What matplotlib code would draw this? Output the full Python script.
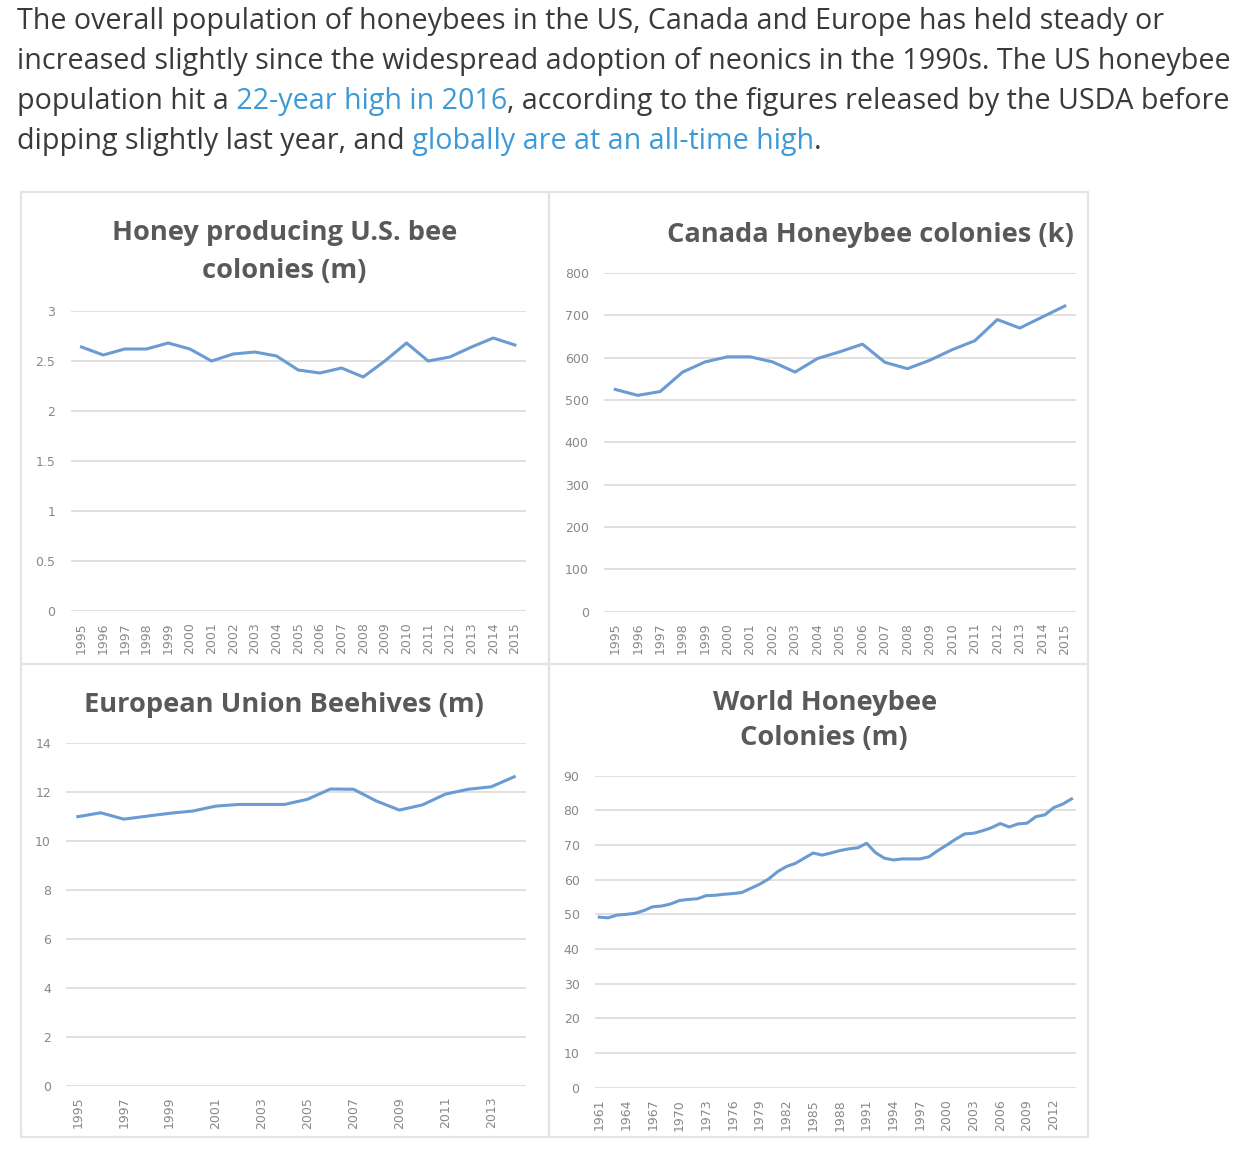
import matplotlib
matplotlib.use('Agg')
import matplotlib.pyplot as plt
from matplotlib.patches import Rectangle

# ---- data ----
us_years = list(range(1995, 2016))
us_colonies = [2.64, 2.56, 2.62, 2.62, 2.68, 2.62, 2.50, 2.57, 2.59, 2.55, 2.41,
               2.38, 2.43, 2.34, 2.50, 2.68, 2.50, 2.54, 2.64, 2.73, 2.66]

ca_years = list(range(1995, 2016))
ca_colonies = [525, 511, 520, 566, 590, 602, 602, 590, 566, 598, 614,
               632, 589, 574, 594, 619, 640, 690, 670, 696, 722]

eu_years = list(range(1995, 2015))
eu_hives = [10.98, 11.14, 10.88, 11.00, 11.12, 11.21, 11.41, 11.48, 11.48, 11.48,
            11.69, 12.11, 12.10, 11.62, 11.25, 11.46, 11.90, 12.10, 12.20, 12.61]

world_years = list(range(1961, 2015))
world_colonies = [49.2, 49.0, 49.8, 50.0, 50.3, 51.1, 52.2, 52.4, 53.0, 54.0,
                  54.3, 54.5, 55.4, 55.5, 55.8, 56.0, 56.3, 57.5, 58.7, 60.2,
                  62.3, 63.8, 64.7, 66.2, 67.7, 67.1, 67.7, 68.4, 68.9, 69.2,
                  70.5, 67.8, 66.2, 65.7, 66.0, 66.0, 66.0, 66.6, 68.4, 70.0,
                  71.7, 73.2, 73.4, 74.1, 75.0, 76.2, 75.2, 76.1, 76.3, 78.2,
                  78.7, 80.8, 81.8, 83.3]

paragraph = [
    [("The overall population of honeybees in the US, Canada and Europe has held steady or", False)],
    [("increased slightly since the widespread adoption of neonics in the 1990s. The US honeybee", False)],
    [("population hit a", False), (" 22-year high in 2016", True),
     (", according to the figures released by the USDA before", False)],
    [("dipping slightly last year, and", False), (" globally are at an all-time high", True), (".", False)],
]

W, H = 1244, 1152
LINE_COLOR = '#6a9bd2'
GRID_COLOR = '#dddddd'
TICK_COLOR = '#888888'
TITLE_COLOR = '#595959'
TEXT_COLOR = '#3a3a3a'
LINK_COLOR = '#3d9ad6'

fig = plt.figure(figsize=(W / 100, H / 100), dpi=100)
fig.patch.set_facecolor('white')

# full-figure overlay in pixel coords (y down)
overlay = fig.add_axes([0, 0, 1, 1])
overlay.set_xlim(0, W)
overlay.set_ylim(H, 0)
overlay.axis('off')

# ---- paragraph with links ----
baselines = [29, 69, 109, 149]
for line, y in zip(paragraph, baselines):
    prev = None
    for txt, is_link in line:
        color = LINK_COLOR if is_link else TEXT_COLOR
        if prev is None:
            prev = overlay.text(17, y, txt, fontsize=20.6, family='Open Sans',
                                color=color, va='baseline', ha='left')
        else:
            prev = overlay.annotate(txt, xy=(1, 0), xycoords=prev, va='bottom',
                                    ha='left', fontsize=20.6, family='Open Sans',
                                    color=color)

# ---- panel borders ----
panels = [(21, 192, 549, 664), (549, 192, 1088, 664),
          (21, 664, 549, 1137), (549, 664, 1088, 1137)]
for x0, y0, x1, y1 in panels:
    overlay.add_patch(Rectangle((x0, y0), x1 - x0, y1 - y0, fill=False,
                                edgecolor='#e4e4e4', linewidth=1.6))


def px_axes(left, top, right, bottom):
    return fig.add_axes([left / W, 1 - bottom / H, (right - left) / W, (bottom - top) / H])


def style_axes(ax, years, values, yticks, ylabels, label_step, ymax):
    idx = list(range(len(years)))
    ax.plot(idx, values, color=LINE_COLOR, linewidth=2.2, solid_joinstyle='round',
            zorder=3)
    ax.set_xlim(-0.5, len(years) - 0.5)
    ax.set_ylim(0, ymax)
    ax.set_yticks(yticks)
    ax.set_yticklabels(ylabels)
    ax.set_xticks(idx[::label_step])
    ax.set_xticklabels([str(y) for y in years[::label_step]], rotation=90, va='top')
    ax.grid(axis='y', color=GRID_COLOR, linewidth=1.3)
    ax.set_axisbelow(True)
    for s in ax.spines.values():
        s.set_visible(False)
    ax.tick_params(axis='y', length=0, pad=11, labelsize=9, labelcolor=TICK_COLOR)
    ax.tick_params(axis='x', length=0, pad=8, labelsize=9, labelcolor=TICK_COLOR)
    ax.patch.set_alpha(0)


ax_us = px_axes(70.7, 311, 525.7, 611)
style_axes(ax_us, us_years, us_colonies, [0, 0.5, 1, 1.5, 2, 2.5, 3],
           ['0', '0.5', '1', '1.5', '2', '2.5', '3'], 1, 3)

ax_ca = px_axes(604, 273, 1076, 611.7)
style_axes(ax_ca, ca_years, ca_colonies, list(range(0, 801, 100)),
           [str(v) for v in range(0, 801, 100)], 1, 800)

ax_eu = px_axes(66.3, 742.7, 525.7, 1085.7)
style_axes(ax_eu, eu_years, eu_hives, list(range(0, 15, 2)),
           [str(v) for v in range(0, 15, 2)], 2, 14)

ax_w = px_axes(594.8, 775.7, 1076, 1087.7)
style_axes(ax_w, world_years, world_colonies, list(range(0, 91, 10)),
           [str(v) for v in range(0, 91, 10)], 3, 90)

# ---- panel titles ----
title_kw = dict(fontsize=19.6, fontweight='bold', family='Open Sans', color=TITLE_COLOR,
                ha='center', va='baseline')
overlay.text(285, 240, 'Honey producing U.S. bee', **title_kw)
overlay.text(284, 278, 'colonies (m)', **title_kw)
overlay.text(870, 242, 'Canada Honeybee colonies (k)', **title_kw)
overlay.text(284, 712, 'European Union Beehives (m)', **title_kw)
overlay.text(825, 710, 'World Honeybee', **title_kw)
overlay.text(824, 745, 'Colonies (m)', **title_kw)

fig.savefig('out.png', dpi=100, facecolor='white')
